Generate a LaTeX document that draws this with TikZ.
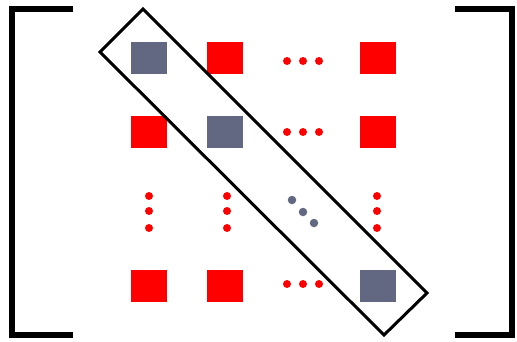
\documentclass[tikz,border=0pt]{standalone}
\begin{document}
\begin{tikzpicture}[x=1pt,y=-1pt,
  cell/.style={rectangle,draw=none,inner sep=0pt,minimum width=36pt,minimum height=32pt},
  redcell/.style={cell,fill=matred},
  graycell/.style={cell,fill=matgray},
  rdot/.style={circle,fill=matred,inner sep=0pt,minimum size=8pt},
  gdot/.style={circle,fill=matgray,inner sep=0pt,minimum size=8.5pt},
  bracket/.style={line width=6pt,line join=miter,line cap=butt},
  band/.style={line width=3pt,line join=miter}]
\definecolor{matred}{RGB}{255,0,0}
\definecolor{matgray}{RGB}{99,104,130}
\useasboundingbox (0,0) rectangle (517,341);
% brackets
\draw[bracket] (73,9) -- (12,9) -- (12,335) -- (73,335);
\draw[bracket] (455,9) -- (512,9) -- (512,335) -- (455,335);
% row 1
\node[graycell] (a11) at (149,58) {};
\node[redcell] (a12) at (225,58) {};
\node[rdot] (h1a) at (287,61) {};
\node[rdot] (h1b) at (303,61) {};
\node[rdot] (h1c) at (319,61) {};
\node[redcell] (a1n) at (378,58) {};
% row 2
\node[redcell] (a21) at (149,132) {};
\node[graycell] (a22) at (225,132) {};
\node[rdot] (h2a) at (287,132) {};
\node[rdot] (h2b) at (303,132) {};
\node[rdot] (h2c) at (319,132) {};
\node[redcell] (a2n) at (378,132) {};
% vertical dots
\node[rdot] (v1a) at (149,196) {};
\node[rdot] (v1b) at (149,211) {};
\node[rdot] (v1c) at (149,228) {};
\node[rdot] (v2a) at (227,196) {};
\node[rdot] (v2b) at (227,211) {};
\node[rdot] (v2c) at (227,228) {};
\node[rdot] (vna) at (377,196) {};
\node[rdot] (vnb) at (377,211) {};
\node[rdot] (vnc) at (377,228) {};
% diagonal dots
\node[gdot] (d1) at (292,200) {};
\node[gdot] (d2) at (303,212) {};
\node[gdot] (d3) at (314,223) {};
% last row
\node[redcell] (an1) at (149,286) {};
\node[redcell] (an2) at (225,286) {};
\node[rdot] (hna) at (287,284) {};
\node[rdot] (hnb) at (303,284) {};
\node[rdot] (hnc) at (319,284) {};
\node[graycell] (ann) at (378,286) {};
% diagonal band
\coordinate (bt) at (143,9);
\coordinate (br) at (427,293);
\coordinate (bb) at (384,335);
\coordinate (bl) at (100,52);
\draw[band] (bt) -- (br) -- (bb) -- (bl) -- cycle;
\end{tikzpicture}
\end{document}
